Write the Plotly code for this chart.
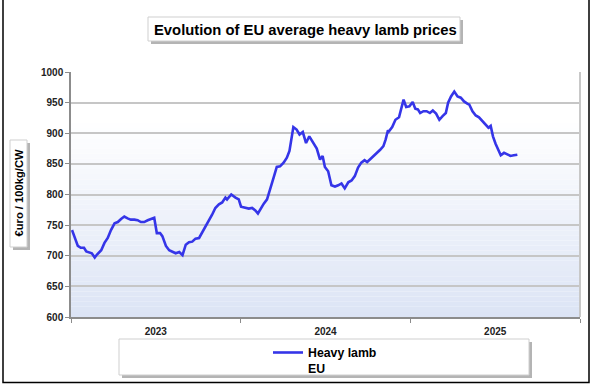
import pandas as pd
import plotly.graph_objects as go

# ---- data: EU average heavy lamb price (euro / 100kg carcass weight) ----
# time of each observation, in weeks since 1 January 2023
week_pos = [
    0.3, 1.1, 2.1, 3.0, 4.0, 4.7, 5.7, 6.4, 7.3, 8.0, 9.3, 10.3, 11.3, 12.3, 13.4, 14.4,
    15.4, 16.4, 17.4, 18.4, 19.5, 20.5, 21.5, 22.5, 23.6, 24.6, 25.6, 26.4, 27.4, 28.1,
    29.2, 30.2, 31.2, 32.2, 33.3, 34.3, 35.3, 36.3, 37.3, 38.3, 39.4, 40.4, 41.4, 42.4,
    43.4, 44.4, 45.5, 46.5, 47.5, 48.0, 49.3, 50.6, 51.6, 52.3, 53.6, 54.7, 55.7, 56.7,
    57.5, 58.2, 59.3, 60.3, 61.3, 62.3, 63.3, 64.3, 65.4, 66.4, 67.2, 67.9, 68.4, 69.4,
    70.3, 71.3, 72.3, 73.3, 74.5, 75.6, 76.6, 77.4, 78.1, 79.1, 80.1, 81.2, 82.2, 83.2,
    84.2, 85.3, 86.3, 87.3, 88.3, 89.3, 90.3, 91.1, 92.1, 93.1, 94.1, 95.1, 96.1, 96.8,
    97.5, 97.8, 98.8, 99.8, 100.9, 101.6, 102.3, 103.1, 104.1, 105.1, 105.9, 106.7, 107.4,
    108.4, 109.4, 110.4, 111.3, 112.3, 113.3, 114.3, 115.3, 116.0, 116.9, 117.9, 118.9,
    119.9, 120.9, 122.0, 122.5, 123.5, 124.5, 125.5, 126.5, 127.6, 128.4, 129.1, 129.8,
    130.6, 131.4, 132.2, 133.2, 134.2, 135.2, 136.2, 137.3,
]
prices = [
    742, 729, 716, 713, 713, 707, 705, 704, 697, 702, 709, 721, 729, 742, 753, 755,
    760, 764, 761, 759, 759, 758, 755, 755, 758, 760, 762, 737, 737, 732,
    716, 709, 706, 704, 706, 701, 718, 722, 723, 728, 729, 738, 748, 758,
    767, 778, 784, 787, 795, 792, 800, 795, 792, 780, 779, 777, 778, 774,
    769, 776, 785, 792, 808, 827, 845, 846, 852, 860, 871, 893, 910, 906,
    898, 902, 884, 895, 885, 875, 857, 863, 845, 838, 815, 813, 815, 818,
    810, 820, 823, 830, 844, 852, 856, 853, 858, 863, 867, 873, 879, 890,
    905, 903, 910, 922, 926, 940, 955, 943, 944, 951, 940, 939, 933,
    936, 936, 933, 937, 932, 922, 928, 933, 950, 960, 968, 960,
    958, 952, 948, 947, 936, 929, 926, 920, 912, 909, 912, 895,
    883, 873, 864, 868, 866, 863, 864, 865,
]
origin = pd.Timestamp("2023-01-01")
dates = [origin + pd.Timedelta(days=w * 7) for w in week_pos]

series_name = "Heavy lamb<br>EU"
title_text = "Evolution of EU average heavy lamb prices"
y_title = "€uro / 100kg/CW"
y_range = [600, 1000]
x_range = ["2023-01-01", "2026-01-01"]

# ---- layout geometry (pixels) ----
W, H = 591, 384
L, R, T, B = 71, 580, 72, 317
PW, PH = R - L, B - T


def px(x):
    return (x - L) / PW


def py(y):
    return (B - y) / PH


FONT = "Liberation Sans, Arial, sans-serif"

fig = go.Figure()
fig.add_trace(go.Scatter(
    x=dates, y=prices, mode="lines", name=series_name,
    line=dict(color="#3535e8", width=2.6),
))

shapes = []
# gradient background of the plot area
n = 48
top = (255, 255, 255)
bot = (220, 228, 245)
for i in range(n):
    t = (i + 0.5) / n
    s = min(1.0, t / 0.8)
    c = tuple(round(bot[k] + (top[k] - bot[k]) * s) for k in range(3))
    shapes.append(dict(type="rect", xref="paper", yref="paper",
                       x0=0, x1=1, y0=i / n, y1=(i + 1) / n,
                       fillcolor="rgb(%d,%d,%d)" % c, line=dict(width=0),
                       layer="below"))
# right border of plot area
shapes.append(dict(type="line", xref="paper", yref="paper", x0=1, x1=1, y0=0, y1=1,
                   line=dict(color="#c8c8c8", width=2)))
# outer frame
shapes.append(dict(type="rect", xref="paper", yref="paper",
                   x0=px(3), x1=px(589), y0=py(382.5), y1=py(-2),
                   line=dict(color="#000000", width=1.5), fillcolor="rgba(0,0,0,0)"))


def boxed(x0, y0, x1, y1):
    # shadow + white box
    shapes.append(dict(type="rect", xref="paper", yref="paper",
                       x0=px(x0 + 3), x1=px(x1 + 3), y0=py(y1 + 3), y1=py(y0 + 3),
                       fillcolor="#b4b4b4", line=dict(width=0)))
    shapes.append(dict(type="rect", xref="paper", yref="paper",
                       x0=px(x0), x1=px(x1), y0=py(y1), y1=py(y0),
                       fillcolor="#ffffff", line=dict(color="#cfcfcf", width=1)))


boxed(148, 17, 460, 41)      # title box
boxed(10, 140, 27, 247)      # y-axis title box
boxed(119, 339, 529, 375)    # legend box

fig.update_layout(
    width=W, height=H,
    margin=dict(l=L, r=W - R, t=T, b=H - B, pad=0, autoexpand=False),
    paper_bgcolor="white", plot_bgcolor="rgba(0,0,0,0)",
    font=dict(family=FONT, color="#111111"),
    shapes=shapes,
    showlegend=True,
    legend=dict(x=px(268), y=py(338), xanchor="left", yanchor="top",
                bgcolor="rgba(0,0,0,0)", borderwidth=0, valign="top",
                font=dict(family=FONT, size=12.3, color="#000000", weight="bold"),
                itemwidth=30),
    annotations=[
        dict(text="<b>" + title_text + "</b>", xref="paper", yref="paper",
             x=px(305), y=py(30), xanchor="center", yanchor="middle", showarrow=False,
             font=dict(family=FONT, size=14.8, color="#000000")),
        dict(text="<b>" + y_title + "</b>", xref="paper", yref="paper",
             x=px(18.5), y=py(193), xanchor="center", yanchor="middle", showarrow=False,
             textangle=-90, font=dict(family=FONT, size=11.2, color="#000000")),
    ],
)

fig.update_yaxes(
    range=y_range, dtick=50, tick0=600,
    showgrid=True, gridcolor="#c6c6c6", gridwidth=1.5,
    showline=True, linecolor="#8c8c8c", linewidth=1.5,
    ticks="outside", ticklen=4, tickcolor="#8c8c8c",
    tickfont=dict(family=FONT, size=10, color="#222222", weight="bold"),
    zeroline=False,
)
fig.update_xaxes(
    type="date", range=x_range, dtick="M12", tick0="2023-01-01",
    ticklabelmode="period", tickformat="%Y",
    showgrid=False, showline=True, linecolor="#8c8c8c", linewidth=1.5,
    ticks="outside", ticklen=4, tickcolor="#8c8c8c",
    tickfont=dict(family=FONT, size=10, color="#222222", weight="bold"),
    zeroline=False,
)

fig.write_html(
    "out.html",
    config={"displayModeBar": False},
    post_script="document.body.style.margin='0';document.body.style.padding='0';"
                "document.body.style.overflow='hidden';",
)
